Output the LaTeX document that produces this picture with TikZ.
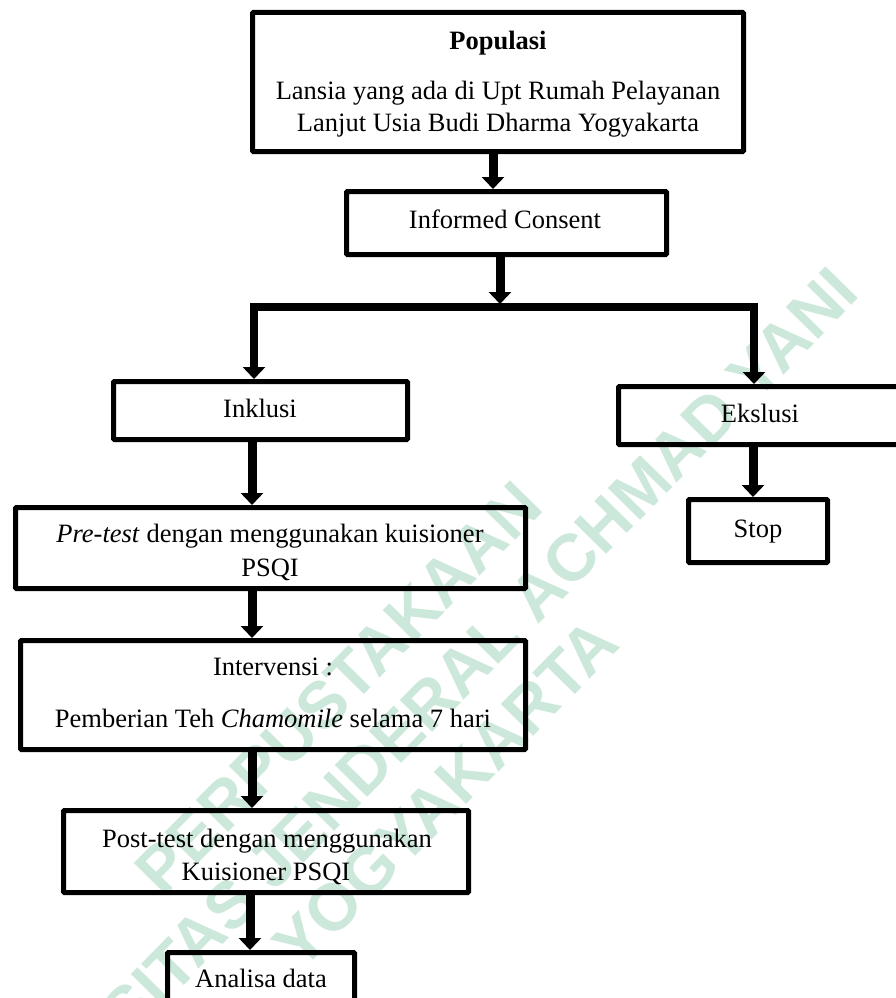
\documentclass[tikz,border=0pt]{standalone}
\usepackage{fontspec}
\setmainfont{Liberation Serif}
\newfontfamily\wmfont{Liberation Sans}
\usetikzlibrary{arrows.meta}
\definecolor{wmgreen}{RGB}{204,232,218}
\begin{document}
\begin{tikzpicture}[x=1pt,y=-1pt,
  box/.style n args={2}{draw, line width=5pt, rounded corners=1pt, minimum width=#1, minimum height=#2, inner sep=0pt},
  lbl/.style={anchor=base, inner sep=0pt, font=\fontsize{26.5}{32}\selectfont},
  arr/.style={line width=9pt, -{Triangle[width=22pt,length=12pt]}},
  branch/.style={line width=8pt, {Triangle[width=22pt,length=12pt]}-{Triangle[width=22pt,length=12pt]}},
  wm/.style={rotate=45.5, align=center, text=wmgreen, inner sep=0pt, font={\wmfont\bfseries\fontsize{66}{75}\selectfont}}
]
\useasboundingbox (0,0) rectangle (896,998);
\clip (0,0) rectangle (896,998);

% watermark
\node[wm] (wm) at (392,741) {PERPUSTAKAAN\\UNIVERSITAS JENDERAL ACHMAD YANI\\YOGYAKARTA};

% boxes
\node[box={491pt}{139pt}] (pop) at (498,82) {};
\node[box={320pt}{63pt}] (inf) at (506.5,223) {};
\node[box={294pt}{58pt}] (ink) at (260.5,410.5) {};
\node[box={283pt}{58pt}] (eks) at (760,415.5) {};
\node[box={139pt}{63pt}] (stop) at (758,531) {};
\node[box={510pt}{81pt}] (pre) at (270.5,548) {};
\node[box={505pt}{109pt}] (int) at (273,695) {};
\node[box={405pt}{82pt}] (post) at (266,851.5) {};
\node[box={187pt}{60pt}] (ana) at (261,982.5) {};

% texts
\node[lbl] (t1) at (498,49) {\textbf{Populasi}};
\node[lbl] (t2) at (498,99) {Lansia yang ada di Upt Rumah Pelayanan};
\node[lbl] (t3) at (498,131) {Lanjut Usia Budi Dharma Yogyakarta};
\node[lbl] (t4) at (505,228) {Informed Consent};
\node[lbl] (t5) at (260,417) {Inklusi};
\node[lbl] (t6) at (760,422) {Ekslusi};
\node[lbl] (t7) at (758,537) {Stop};
\node[lbl] (t8) at (270,542) {\textit{Pre-test} dengan menggunakan kuisioner};
\node[lbl] (t9) at (270,576) {PSQI};
\node[lbl] (t10) at (273,675) {Intervensi :};
\node[lbl] (t11) at (273,727) {Pemberian Teh \textit{Chamomile} selama 7 hari};
\node[lbl] (t12) at (267,847) {Post-test dengan menggunakan};
\node[lbl] (t13) at (266,880) {Kuisioner PSQI};
\node[lbl] (t14) at (261,987) {Analisa data};

% connector columns
\coordinate (c1) at (493,0);
\coordinate (c2) at (500,0);
\coordinate (cl) at (254,0);
\coordinate (cr) at (754,0);
\coordinate (cj) at (0,307);
\coordinate (cjt) at (0,304);
\coordinate (c3) at (753,0);
\coordinate (c4) at (252,0);
\coordinate (c5) at (250,0);

\draw[arr] (pop.south -| c1) -- (inf.north -| c1);
\draw[arr] (inf.south -| c2) -- (cjt -| c2);
\draw[branch] (ink.north -| cl) -- (cl |- cj) -- (cr |- cj) -- (eks.north -| cr);
\draw[arr] (eks.south -| c3) -- (stop.north -| c3);
\draw[arr] (ink.south -| c4) -- (pre.north -| c4);
\draw[arr] (pre.south -| c4) -- (int.north -| c4);
\draw[arr] (int.south -| c4) -- (post.north -| c4);
\draw[arr] (post.south -| c5) -- (ana.north -| c5);
\end{tikzpicture}
\end{document}
